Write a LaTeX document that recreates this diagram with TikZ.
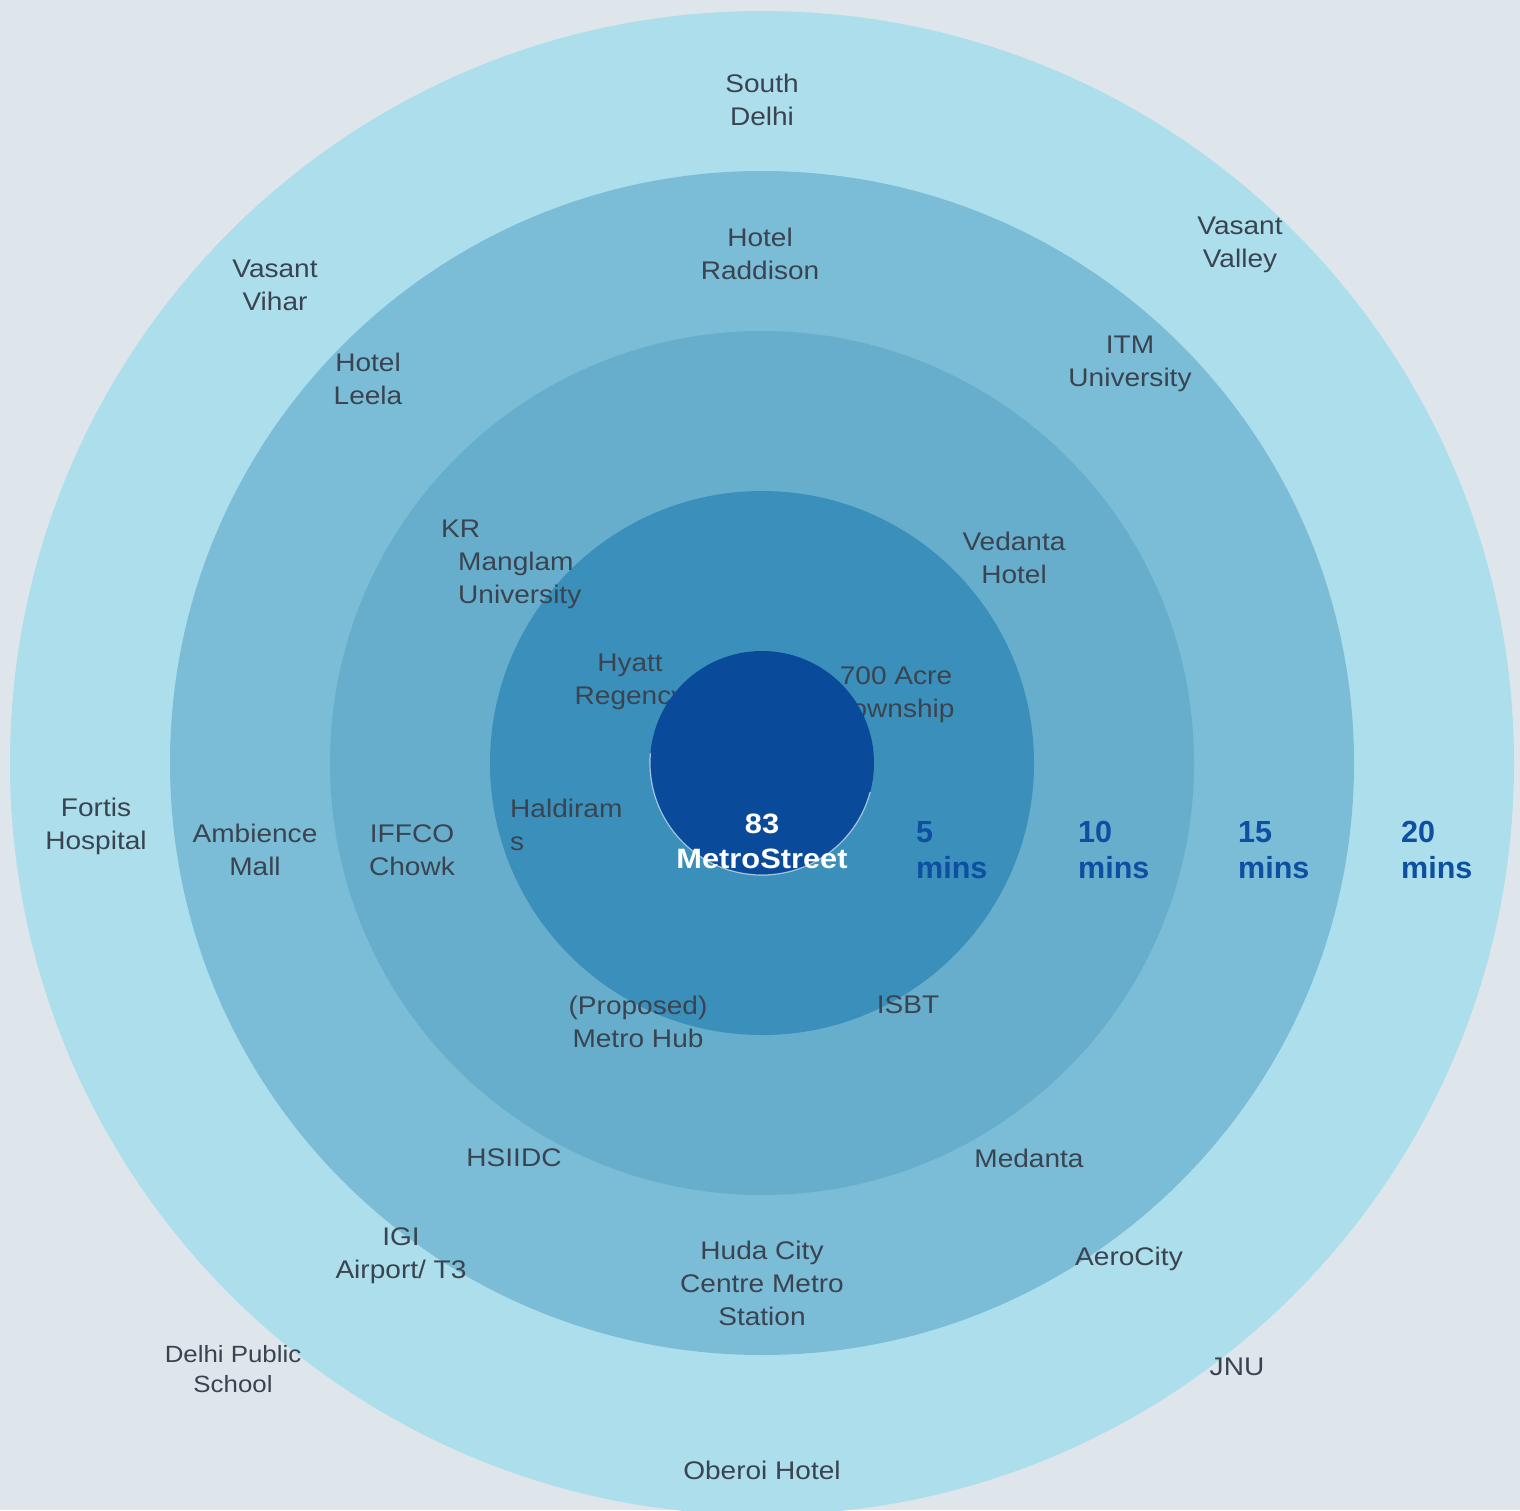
\documentclass[tikz,border=0pt]{standalone}
\usepackage{fontspec}
\setmainfont[FakeStretch=1.1]{Liberation Sans}
\newfontfamily\minsfont{Liberation Sans}
\definecolor{bg}{HTML}{DEE6EC}
\definecolor{ringA}{HTML}{ADDEEC}
\definecolor{ringB}{HTML}{7BBCD7}
\definecolor{ringC}{HTML}{67AECC}
\definecolor{ringD}{HTML}{3A8FBB}
\definecolor{core}{HTML}{0A4A9B}
\definecolor{txt}{HTML}{3A4450}
\definecolor{mins}{HTML}{0D4FA0}
\tikzset{
  lbl/.style={font=\fontsize{25.5}{33}\selectfont, text=txt, align=center, inner sep=0pt},
  lblL/.style={lbl, align=left, anchor=west},
  minlbl/.style={font=\minsfont\fontsize{30.5}{36}\bfseries\selectfont, text=mins, align=left, anchor=west, inner sep=0pt},
  corelbl/.style={font=\fontsize{28}{35}\bfseries\selectfont, text=white, align=center, inner sep=0pt},
}
\begin{document}
\begin{tikzpicture}[x=1pt,y=-1pt]
\useasboundingbox (0,0) rectangle (1520,1510);
\clip (0,0) rectangle (1520,1510);
\fill[bg] (0,0) rectangle (1520,1510);
\coordinate (c) at (762,763);
\fill[ringA] (c) circle[radius=752];
\fill[ringB] (c) circle[radius=592];
\fill[ringC] (c) circle[radius=432];
\fill[ringD] (c) circle[radius=272];

% outer ring
\node[lbl] (south) at (762,100) {South\\Delhi};
\node[lbl] (vvihar) at (275,285) {Vasant\\Vihar};
\node[lbl] (vvalley) at (1240,245) {Vasant\\Valley};
\node[lbl] (fortis) at (96,826) {Fortis\\Hospital};
\node[lbl, font=\fontsize{23.5}{30}\selectfont] (dps) at (233,1369) {Delhi Public\\School};
\node[lbl] (jnu) at (1237,1367) {JNU};
\node[lbl] (oberoi) at (762,1470) {Oberoi Hotel};
% second ring
\node[lbl] (raddison) at (760,254) {Hotel\\Raddison};
\node[lbl] (leela) at (368,379) {Hotel\\Leela};
\node[lbl] (itm) at (1130,364) {ITM\\University};
\node[lbl] (ambience) at (255,850) {Ambience\\Mall};
\node[lbl] (igi) at (401,1256) {IGI\\Airport/ T3};
\node[lbl] (huda) at (762,1283) {Huda City\\Centre Metro\\Station};
\node[lbl] (aero) at (1129,1259) {AeroCity};
% third ring
\node[lblL] (krm) at (441,564) {KR\\\hspace*{17pt}Manglam\\\hspace*{17pt}University};
\node[lbl] (vedanta) at (1014,558) {Vedanta\\Hotel};
\node[lbl] (iffco) at (412,850) {IFFCO\\Chowk};
\node[lbl] (hsiidc) at (514,1158) {HSIIDC};
\node[lbl] (medanta) at (1029,1158) {Medanta};
% fourth ring
\node[lbl] (hyatt) at (630,682) {Hyatt\\Regency};
\node[lbl] (acre) at (896,695) {700 Acre\\Township};
\node[lblL] (haldi) at (510,825) {Haldiram\\s};
\node[lbl] (metrohub) at (638,1022) {(Proposed)\\Metro Hub};
\node[lbl] (isbt) at (908,1005) {ISBT};

% core
\fill[core] (c) circle[radius=112];
\draw[white, opacity=0.6, line width=1.2pt] ([shift={(15:112)}]c) arc[start angle=15, end angle=185, radius=112];
\node[corelbl] (core83) at (762,841) {83\\MetroStreet};

% time labels
\node[minlbl] (m5) at (916,850) {5\\mins};
\node[minlbl] (m10) at (1078,850) {10\\mins};
\node[minlbl] (m15) at (1238,850) {15\\mins};
\node[minlbl] (m20) at (1401,850) {20\\mins};
\end{tikzpicture}
\end{document}
